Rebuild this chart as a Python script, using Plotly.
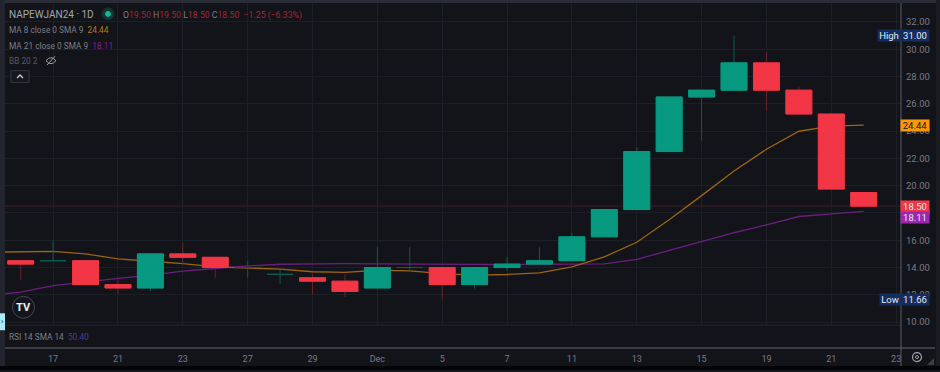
import plotly.graph_objects as go

# ---- data ----
session = list(range(27))
opens = [14.5,14.5,14.5,12.75,12.5,15.0,14.75,14.0,13.5,13.25,13.0,12.5,14.0,14.0,12.75,14.0,14.25,14.5,16.25,18.25,22.5,26.5,27.0,29.0,27.0,25.25,19.5]
highs = [14.5,16.0,14.55,13.1,15.0,15.8,14.75,14.5,13.8,13.5,13.5,15.5,15.5,14.0,14.0,14.75,15.5,16.55,18.3,22.8,26.5,27.0,31.0,29.8,27.25,25.25,19.5]
lows = [13.1,14.5,12.75,12.05,12.25,14.25,13.25,13.25,12.8,12.05,11.85,12.5,13.7,11.66,12.45,13.75,14.25,14.5,16.25,18.25,22.5,23.3,27.0,25.5,25.25,19.75,18.5]
closes = [14.25,14.5,12.75,12.5,15.0,14.75,14.0,14.0,13.5,13.0,12.25,14.0,14.0,12.75,14.0,14.25,14.5,16.25,18.25,22.5,26.5,27.0,29.0,27.0,25.25,19.75,18.5]
ma_x = list(range(-1,27))
ma8 = [15.12,15.17,15.19,15.0,14.63,14.46,14.29,14.05,13.98,13.88,13.69,13.64,13.8,13.76,13.56,13.44,13.49,13.61,14.05,14.78,15.85,17.5,19.27,21.07,22.67,23.99,24.37,24.44]
ma21 = [11.95,12.2,12.67,12.96,13.2,13.44,13.73,13.93,14.12,14.24,14.29,14.29,14.27,14.24,14.24,14.23,14.22,14.22,14.22,14.27,14.6,15.25,15.9,16.55,17.13,17.74,17.94,18.11]
y_ticks = [10,12,14,16,18,20,22,24,26,28,30,32]
x_tick_pos = [1,3,5,7,9,11,13,15,17,19,21,23,25,27]
x_tick_labels = ["17","21","23","27","29","Dec","5","7","11","13","15","19","21","23"]
last_close, ma8_last, ma21_last, high_mark, low_mark = 18.50, 24.44, 18.11, 31.00, 11.66

BG = "#13141a"
GRID = "#1c1f26"
UP, UP_DIM = "#089981", "#0d5b50"
DOWN, DOWN_DIM = "#f23645", "#6e1f2c"
TXT = "#9598a1"
FONT = "Roboto, Arial, sans-serif"
W, H = 940, 372
px = lambda x: x / W
py = lambda y: 1 - y / H

fig = go.Figure()

def candles(idx, o, h, l, c, color, lw, z):
    return go.Candlestick(
        x=[session[i] for i in idx], open=[o[i] for i in idx], high=[h[i] for i in idx],
        low=[l[i] for i in idx], close=[c[i] for i in idx],
        increasing=dict(line=dict(color=color, width=lw), fillcolor=color),
        decreasing=dict(line=dict(color=color, width=lw), fillcolor=color),
        whiskerwidth=0, showlegend=False, hoverinfo="skip", zorder=z)

fig.add_trace(go.Scatter(x=ma_x, y=ma21, mode="lines", line=dict(color="#6a1f7f", width=1.3), showlegend=False, hoverinfo="skip", zorder=0))
fig.add_trace(go.Scatter(x=ma_x, y=ma8, mode="lines", line=dict(color="#9c6410", width=1.3), showlegend=False, hoverinfo="skip", zorder=0))

ups = [i for i in session if closes[i] >= opens[i]]
downs = [i for i in session if closes[i] < opens[i]]
tops = [max(a, b) for a, b in zip(opens, closes)]
bots = [min(a, b) for a, b in zip(opens, closes)]
fig.add_trace(candles(ups, opens, highs, lows, closes, UP_DIM, 1, 1))
fig.add_trace(candles(downs, opens, highs, lows, closes, DOWN_DIM, 1, 1))
fig.add_trace(candles([i for i in ups if opens[i] != closes[i]], opens, tops, bots, closes, UP, 1, 2))
fig.add_trace(candles(downs, opens, tops, bots, closes, DOWN, 1, 2))

# empty RSI pane carries the date axis
fig.add_trace(go.Scatter(x=[None], y=[None], xaxis="x2", yaxis="y2", showlegend=False))

X0, X1 = 5, 901
x_range = [-0.484, 27.15]

def tag(text, x0, x1, y, bg, color="#e8e9ee", yshift=0, size=9.5):
    fig.add_annotation(xref="paper", yref="y", x=px((x0 + x1) / 2), y=y, yshift=yshift, text=text,
                       xanchor="center", yanchor="middle",
                       showarrow=False, bgcolor=bg, width=x1 - x0, height=11, borderpad=0,
                       font=dict(family=FONT, size=size, color=color), align="center")

def label(text, x, y, size=8.3, color=TXT, **kw):
    fig.add_annotation(xref="paper", yref="paper", x=px(x), y=py(y), xanchor="left", yanchor="middle",
                       text=text, showarrow=False, borderpad=0, borderwidth=0,
                       font=dict(family=FONT, size=size, color=color), **kw)

tag("High", 878, 900, high_mark, "#132d5e")
tag(f"{high_mark:.2f}", 901, 929, high_mark, "#132d5e")
tag(f"{ma8_last:.2f}", 901, 929, ma8_last, "#ff9800", color="#14161c")
tag(f"{last_close:.2f}", 901, 929, last_close, "#f23645")
tag(f"{ma21_last:.2f}", 901, 929, ma21_last, "#9c27b0", yshift=-6)
tag("Low", 880, 900, low_mark, "#132d5e")
tag(f"{low_mark:.2f}", 901, 929, low_mark, "#132d5e")

R = "#a62433"
G = "#787b86"
label("NAPEWJAN24 · 1D", 9, 15, size=10, color="#a3a6af")
label(f'<span style="color:{G}">O</span>19.50 <span style="color:{G}">H</span>19.50 '
      f'<span style="color:{G}">L</span>18.50 <span style="color:{G}">C</span>18.50  −1.25 (−6.33%)',
      123, 15.5, size=8.7, color=R)
label(f'MA 8 close 0 SMA 9  <span style="color:#b8790c">24.44</span>', 9, 30, color="#7c7f89")
label(f'MA 21 close 0 SMA 9  <span style="color:#7d1f96">18.11</span>', 9, 46, color="#7c7f89")
label("BB 20 2", 9, 61, color="#565a64")
label(f'RSI 14 SMA 14  <span style="color:#4a3c8c">50.40</span>', 9, 339, color="#7c7f89")

def rect(x0, y0, x1, y1, fill, line=None, layer="above", **kw):
    fig.add_shape(type="rect", xref="paper", yref="paper", x0=px(x0), x1=px(x1), y0=py(y0), y1=py(y1),
                  fillcolor=fill, line=dict(color=line or fill, width=1 if line else 0), layer=layer, **kw)

def circle(cx, cy, r, fill, line=None, width=1):
    fig.add_shape(type="circle", xref="paper", yref="paper", x0=px(cx - r), x1=px(cx + r), y0=py(cy + r), y1=py(cy - r),
                  fillcolor=fill, line=dict(color=line or fill, width=width))

def seg(pts, color, width=1):
    d = "M " + " L ".join(f"{px(a):.5f},{py(b):.5f}" for a, b in pts)
    fig.add_shape(type="path", xref="paper", yref="paper", path=d, line=dict(color=color, width=width))

# frame strips
rect(0, 0, W, 3, "#2a2d36", layer="below")
rect(0, 0, 5, H, "#22252e", layer="below")
rect(0, 368, W, H, "#050507", layer="below")
rect(936, 0, W, 368, "#1a1c22", layer="below")
# pane separators
seg([(5, 350), (935, 350)], "#4a4d55", 1.5)
seg([(5, 327), (901, 327)], "#22252c", 1)
seg([(901, 3), (901, 368)], "#5a5d65", 1)
# last-price line
fig.add_shape(type="line", xref="paper", yref="y", x0=px(X0), x1=px(X1), y0=last_close, y1=last_close,
              line=dict(color="#38202a", width=1), layer="below")
# status dot
circle(108, 14, 6, "#123631")
circle(108, 14, 2.5, "#12b896")
# collapse button
fig.add_shape(type="rect", xref="paper", yref="paper", x0=px(11), x1=px(29), y0=py(83), y1=py(71),
              line=dict(color="#33363f", width=1), fillcolor="#16181e")
seg([(17, 78.5), (20, 75.5), (23, 78.5)], "#c8cad0", 1.4)
# hidden-eye icon
fig.add_shape(type="path", xref="paper", yref="paper",
              path=f"M {px(46):.5f},{py(61):.5f} Q {px(51):.5f},{py(55):.5f} {px(56):.5f},{py(61):.5f} Q {px(51):.5f},{py(67):.5f} {px(46):.5f},{py(61):.5f} Z",
              line=dict(color="#9a9da5", width=1))
seg([(47, 65.5), (55, 56.5)], "#9a9da5", 1)
# logo
circle(23.5, 309, 11, "#14161f", "#44474f", 1)
fig.add_annotation(xref="paper", yref="paper", x=px(23.5), y=py(309), xanchor="center", yanchor="middle",
                   text="<b>TV</b>", showarrow=False, font=dict(family=FONT, size=11, color="#eceef2"))
# side handle
rect(0, 315, 5, 332, "#a8ecf4")
label("›", 0.5, 323, size=8, color="#14161c")
# gear
circle(917, 359, 4.5, "rgba(0,0,0,0)", "#a0a3ab", 1.2)
circle(917, 359, 1.5, "rgba(0,0,0,0)", "#a0a3ab", 1)
# resize grip
fig.add_shape(type="path", xref="paper", yref="paper",
              path=f"M {px(934):.5f},{py(367):.5f} L {px(934):.5f},{py(360):.5f} L {px(927):.5f},{py(367):.5f} Z",
              fillcolor="#3a3d45", line=dict(width=0))

fig.update_layout(
    width=W, height=H, margin=dict(l=0, r=0, t=0, b=0), autosize=False,
    paper_bgcolor=BG, plot_bgcolor=BG, boxgap=0.2, boxgroupgap=0, boxmode="overlay", hovermode=False,
    xaxis=dict(domain=[px(X0), px(X1)], range=x_range, tickvals=x_tick_pos, showticklabels=False, ticks="",
               gridcolor=GRID, gridwidth=1, zeroline=False, rangeslider=dict(visible=False), showline=False),
    yaxis=dict(domain=[py(327), py(3)], range=[9.77, 33.39], side="right", tickvals=y_ticks,
               ticktext=[f"{v:.2f}" for v in y_ticks], tickfont=dict(family=FONT, size=9.5, color="#787b84"),
               gridcolor=GRID, gridwidth=1, zeroline=False, showline=False, ticks="", ticklabelstandoff=4),
    xaxis2=dict(domain=[px(X0), px(X1)], range=x_range, anchor="y2", tickvals=x_tick_pos, ticktext=x_tick_labels,
                tickfont=dict(family=FONT, size=9, color="#787b84"), showgrid=False, zeroline=False,
                ticks="", ticklabelstandoff=4, showline=False),
    yaxis2=dict(domain=[py(350), py(327)], range=[0, 100], anchor="x2", showticklabels=False, showgrid=False, zeroline=False),
)
fig.write_html("out.html", config=dict(displayModeBar=False),
               post_script="document.body.style.margin='0';document.body.style.overflow='hidden';")
